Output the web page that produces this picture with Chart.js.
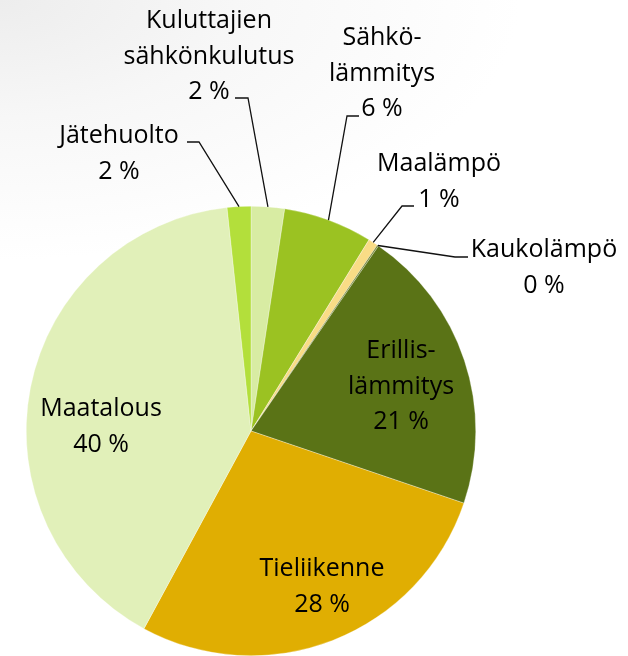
<!DOCTYPE html>
<html>
<head>
<meta charset="utf-8">
<script src="https://cdn.jsdelivr.net/npm/chart.js@4/dist/chart.umd.min.js"></script>
<style>
  html, body { margin: 0; padding: 0; }
  body { width: 628px; height: 656px; overflow: hidden;
    background: radial-gradient(ellipse 520px 260px at 0px 0px, #ededed 0%, #f7f7f7 45%, #ffffff 100%); }
  #wrap { position: absolute; left: 0; top: 0; width: 628px; height: 656px; }
</style>
</head>
<body>
<div id="wrap"><canvas id="c" width="628" height="656"></canvas></div>
<script>
// Categories in clockwise order starting at 12 o'clock (each as its display lines)
const categories = [
  ['Kuluttajien', 'sähkönkulutus'],
  ['Sähkö-', 'lämmitys'],
  ['Maalämpö'],
  ['Kaukolämpö'],
  ['Erillis-', 'lämmitys'],
  ['Tieliikenne'],
  ['Maatalous'],
  ['Jätehuolto']
];
// Share of emissions (%)
const shares = [2.4, 6.4, 0.7, 0.1, 20.6, 27.7, 40.4, 1.7];
const colors = ['#d8eca3', '#9bc222', '#f9dc86', '#6e7f2a', '#5a7316', '#e0ae02', '#e1f0b9', '#b3df3b'];

const FONT = '25px "Open Sans", "Noto Sans", sans-serif';
const LINE_H = 35.5;

// Label placement (layout only): text centre x, first baseline y, optional leader elbow
const labelLayout = [
  { x: 209, y: 28, leaderLine: 2, leader: [[235, 98], [248, 98]] },
  { x: 382, y: 45, leaderLine: 2, leader: [[359, 116], [347, 116]] },
  { x: 439, y: 171, leaderLine: 1, leader: [[414, 206], [402, 206]] },
  { x: 544, y: 257, leaderLine: 0, leader: [[468, 257], [455, 257]] },
  { x: 401, y: 358 },
  { x: 322, y: 576 },
  { x: 101, y: 416 },
  { x: 119, y: 143, leaderLine: 0, leader: [[187, 142], [199, 142]] }
];

const labelPlugin = {
  id: 'pieLabels',
  afterDatasetsDraw(chart) {
    const ctx = chart.ctx;
    const meta = chart.getDatasetMeta(0);
    const data = chart.data.datasets[0].data;
    ctx.save();
    ctx.font = FONT;
    ctx.fillStyle = '#000';
    ctx.textAlign = 'center';
    ctx.textBaseline = 'alphabetic';
    meta.data.forEach((arc, i) => {
      const lay = labelLayout[i];
      const lines = chart.data.labels[i].concat([Math.round(data[i]) + ' %']);
      lines.forEach((t, k) => ctx.fillText(t, lay.x, lay.y + k * LINE_H));
      if (lay.leader) {
        const p = arc.getProps(['x', 'y', 'startAngle', 'endAngle', 'outerRadius'], true);
        const mid = (p.startAngle + p.endAngle) / 2;
        const ex = p.x + Math.cos(mid) * p.outerRadius;
        const ey = p.y + Math.sin(mid) * p.outerRadius;
        ctx.beginPath();
        ctx.strokeStyle = '#111';
        ctx.lineWidth = 1.3;
        ctx.moveTo(lay.leader[0][0], lay.leader[0][1]);
        ctx.lineTo(lay.leader[1][0], lay.leader[1][1]);
        ctx.lineTo(ex, ey);
        ctx.stroke();
      }
    });
    ctx.restore();
  }
};

new Chart(document.getElementById('c'), {
  type: 'pie',
  data: {
    labels: categories,
    datasets: [{
      data: shares,
      backgroundColor: colors,
      borderColor: 'rgba(255,255,255,0.6)',
      borderWidth: 0.5
    }]
  },
  options: {
    responsive: false,
    animation: false,
    layout: { padding: { left: 26, right: 152, top: 206, bottom: 0 } },
    plugins: { legend: { display: false }, tooltip: { enabled: false } }
  },
  plugins: [labelPlugin]
});
</script>
</body>
</html>
